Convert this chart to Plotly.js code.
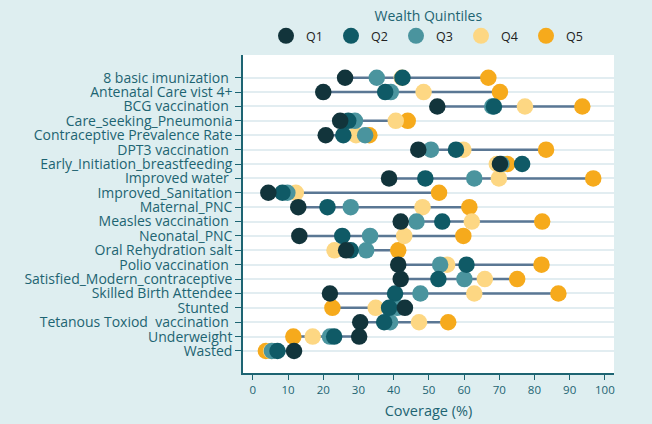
<!DOCTYPE html>
<html><head><meta charset="utf-8">
<script src="https://cdn.plot.ly/plotly-3.0.1.min.js"></script>
<style>html,body{margin:0;padding:0;background:#deeef0;}</style>
</head><body>
<div id="chart" style="width:652px;height:424px;"></div>
<script>
const NB = "\u00a0";
const categories = [
  "8 basic imunization" + NB,
  "Antenatal Care vist 4+",
  "BCG vaccination" + NB,
  "Care_seeking_Pneumonia",
  "Contraceptive Prevalence Rate",
  "DPT3 vaccination" + NB,
  "Early_Initiation_breastfeeding",
  "Improved water" + NB,
  "Improved_Sanitation",
  "Maternal_PNC",
  "Measles vaccination" + NB,
  "Neonatal_PNC",
  "Oral Rehydration salt",
  "Polio vaccination" + NB,
  "Satisfied_Modern_contraceptive",
  "Skilled Birth Attendee",
  "Stunted" + NB,
  "Tetanous Toxiod" + NB + NB + "vaccination" + NB,
  "Underweight",
  "Wasted"
];
const q1 = [26.2, 20.0, 52.4, 24.8, 20.7, 47.0, 70.2, 38.7, 4.4, 12.9, 42.0, 13.2, 26.5, 41.3, 42.0, 21.9, 43.2, 30.5, 30.2, 11.7];
const q2 = [42.5, 37.6, 68.5, 27.1, 25.7, 57.7, 76.5, 49.0, 8.4, 21.2, 53.8, 25.4, 27.8, 60.7, 52.7, 40.4, 38.7, 37.3, 23.1, 7.0];
const q3 = [35.2, 39.2, 68.0, 29.0, 31.9, 50.6, 70.6, 62.9, 9.8, 27.8, 46.5, 33.3, 32.2, 53.2, 60.1, 47.6, 41.0, 39.0, 21.9, 5.4];
const q4 = [42.3, 48.5, 77.3, 40.6, 29.3, 59.8, 69.3, 69.9, 12.2, 48.2, 62.2, 43.0, 23.2, 55.2, 65.9, 62.9, 34.9, 47.2, 17.0, 5.2];
const q5 = [66.9, 70.2, 93.6, 44.0, 33.1, 83.3, 72.3, 96.7, 52.9, 61.5, 82.2, 59.8, 41.3, 82.0, 75.1, 86.8, 22.6, 55.5, 11.5, 3.7];
const seriesNames = ["Q1", "Q2", "Q3", "Q4", "Q5"];
const seriesColors = ["#12343b", "#0f5a66", "#4a949e", "#fdd783", "#f6aa1c"];
const allSeries = [q1, q2, q3, q4, q5];

const teal = "#1d6472";
const lx = [], ly = [];
categories.forEach((c, i) => {
  const vals = allSeries.map(s => s[i]);
  lx.push(Math.min(...vals), Math.max(...vals), null);
  ly.push(c, c, null);
});
const traces = [{
  x: lx, y: ly, type: "scatter", mode: "lines",
  line: {color: "#5a7794", width: 2.5}, showlegend: false, hoverinfo: "skip"
}];
for (let k = 4; k >= 0; k--) {
  traces.push({
    x: allSeries[k], y: categories, type: "scatter", mode: "markers",
    name: seriesNames[k],
    marker: {color: seriesColors[k], size: 16.5, line: {width: 0}}
  });
}
const layout = {
  width: 652, height: 424,
  paper_bgcolor: "#deeef0", plot_bgcolor: "#ffffff",
  margin: {l: 243, r: 38, t: 55, b: 51, autoexpand: false},
  font: {family: "'Open Sans', Lato, sans-serif", color: teal},
  showlegend: true,
  legend: {
    orientation: "h", traceorder: "reversed",
    x: 0.5, xanchor: "center", yref: "container", y: 0.993, yanchor: "top",
    bgcolor: "rgba(0,0,0,0)",
    font: {size: 12.5, color: "#222"},
    entrywidth: 20, entrywidthmode: "pixels",
    title: {text: "Wealth Quintiles", side: "top center", font: {size: 14, color: teal}}
  },
  xaxis: {
    range: [-2.8, 102.6], tickvals: [0,10,20,30,40,50,60,70,80,90,100],
    ticks: "outside", ticklen: 5, tickcolor: teal, tickfont: {size: 11.5, color: teal},
    showgrid: false, zeroline: false, showline: true, linecolor: teal, linewidth: 1.5,
    title: {text: "Coverage (%)", font: {size: 14.5, color: teal}, standoff: 10}
  },
  yaxis: {
    type: "category", categoryorder: "array", categoryarray: categories,
    tickmode: "array", tickvals: categories, ticktext: categories,
    range: [20.53, -1.58],
    ticks: "outside", ticklen: 6, tickcolor: teal, tickfont: {size: 14, color: teal},
    showgrid: true, gridcolor: "#e2edf1", gridwidth: 2,
    zeroline: false, showline: true, linecolor: teal, linewidth: 1.5
  }
};
Plotly.newPlot("chart", traces, layout, {displayModeBar: false});
</script>
</body></html>
